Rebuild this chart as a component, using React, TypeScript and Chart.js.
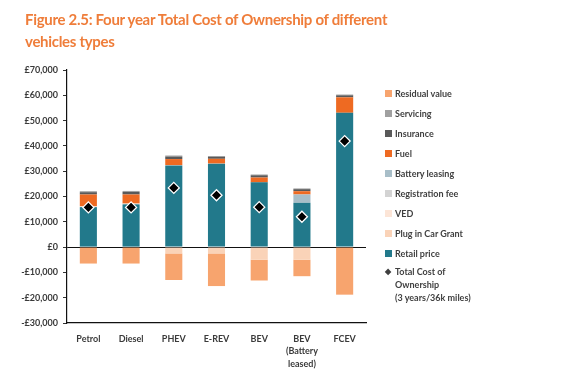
import React, { useEffect, useRef } from "react";
import { Chart, registerables } from "chart.js";

Chart.register(...registerables);

const categories: (string | string[])[] = ["Petrol", "Diesel", "PHEV", "E-REV", "BEV", ["BEV", "(Battery", "leased)"], "FCEV"];
const retailPrice = [15800, 16900, 32300, 32900, 25600, 17500, 53100];
const plugInCarGrant = [0, 0, -2500, -2500, -5000, -5000, 0];
const ved = [300, 300, 100, 100, 0, 0, 0];
const registrationFee = [0, 0, 0, 0, 0, 0, 0];
const batteryLeasing = [0, 0, 0, 0, 0, 3300, 0];
const fuel = [4700, 3600, 2400, 1900, 1900, 1300, 6100];
const insurance = [900, 1000, 1000, 800, 900, 800, 800];
const servicing = [400, 400, 400, 300, 300, 300, 300];
const residualValue = [-6500, -6500, -10500, -12900, -8200, -6500, -18800];
const totalCostOfOwnership = [15700, 15700, 23400, 20500, 15800, 12000, 41900];

const yTicks = [-30000, -20000, -10000, 0, 10000, 20000, 30000, 40000, 50000, 60000, 70000];

const COLORS = {
  retail: "#22798B",
  grant: "#FAD3B8",
  ved: "#FCE5D7",
  reg: "#D3D3D3",
  battery: "#A8BEC8",
  fuel: "#EE6A22",
  insurance: "#595959",
  servicing: "#A0A0A0",
  residual: "#F7A46E",
};

const legendItems = [
  { label: "Residual value", color: COLORS.residual },
  { label: "Servicing", color: COLORS.servicing },
  { label: "Insurance", color: COLORS.insurance },
  { label: "Fuel", color: COLORS.fuel },
  { label: "Battery leasing", color: COLORS.battery },
  { label: "Registration fee", color: COLORS.reg },
  { label: "VED", color: COLORS.ved },
  { label: "Plug in Car Grant", color: COLORS.grant },
  { label: "Retail price", color: COLORS.retail },
];

const FONT = "Lato, 'Open Sans', sans-serif";

function fmt(v: number) {
  const a = Math.abs(v).toLocaleString("en-GB");
  return v < 0 ? "-£" + a : "£" + a;
}

export default function App() {
  const ref = useRef<HTMLCanvasElement>(null);
  useEffect(() => {
    if (!ref.current) return;
    const bar = (label: string, data: number[], color: string) => ({
      type: "bar" as const,
      label,
      data,
      backgroundColor: color,
      borderWidth: 0,
      stack: "s",
      categoryPercentage: 1,
      barPercentage: 0.4,
    });
    const chart = new Chart(ref.current, {
      type: "bar",
      data: {
        labels: categories,
        datasets: [
          {
            type: "line" as const,
            label: "Total Cost of Ownership (3 years/36k miles)",
            data: totalCostOfOwnership,
            showLine: false,
            pointStyle: "rectRot",
            pointRadius: 5.5,
            pointBackgroundColor: "#000",
            pointBorderColor: "#fff",
            pointBorderWidth: 1.3,
            stack: "tco",
            order: -1,
          } as any,
          bar("Retail price", retailPrice, COLORS.retail),
          bar("Plug in Car Grant", plugInCarGrant, COLORS.grant),
          bar("VED", ved, COLORS.ved),
          bar("Registration fee", registrationFee, COLORS.reg),
          bar("Battery leasing", batteryLeasing, COLORS.battery),
          bar("Fuel", fuel, COLORS.fuel),
          bar("Insurance", insurance, COLORS.insurance),
          bar("Servicing", servicing, COLORS.servicing),
          bar("Residual value", residualValue, COLORS.residual),
        ],
      },
      options: {
        animation: false,
        responsive: false,
        layout: { padding: { left: 0, right: 204, top: 70, bottom: 0 } },
        plugins: { legend: { display: false }, tooltip: { enabled: false }, title: { display: false } },
        scales: {
          x: {
            stacked: true,
            grid: { display: false },
            border: { display: true, color: "#111", width: 1.2 },
            ticks: { color: "#3a3a3a", font: { family: FONT, size: 9, weight: "bold", lineHeight: 1.36 }, padding: 2, maxRotation: 0, autoSkip: false },
            afterFit: (s: any) => { s.height = 56; },
          },
          y: {
            stacked: true,
            min: -30000,
            max: 70000,
            afterBuildTicks: (s: any) => { s.ticks = yTicks.map((v) => ({ value: v })); },
            grid: {
              color: (c: any) => (c.tick && c.tick.value === 0 ? "#111" : "rgba(0,0,0,0)"),
              tickColor: "#333",
              tickLength: 4,
              lineWidth: 1,
              drawTicks: true,
            },
            border: { display: true, color: "#111", width: 1.2 },
            ticks: { color: "#3a3a3a", font: { family: FONT, size: 9, weight: "bold" }, padding: 5, callback: (v: any) => fmt(Number(v)) },
            afterFit: (s: any) => { s.width = 67; },
          },
        },
      },
    });
    return () => chart.destroy();
  }, []);

  return (
    <div style={{ position: "absolute", left: 0, top: 0, width: 570, height: 379, background: "#fff", fontFamily: FONT }}>
      <canvas ref={ref} width={570} height={379} style={{ position: "absolute", left: 0, top: 0, width: 570, height: 379 }} />
      <div style={{ position: "absolute", left: 25, top: 8, color: "#EF7D3A", fontWeight: 700, fontSize: 15, letterSpacing: "-0.3px", lineHeight: "22px", whiteSpace: "nowrap" }}>
        Figure 2.5: Four year Total Cost of Ownership of different
        <br />
        vehicles types
      </div>
      <div style={{ position: "absolute", left: 385, top: 83, fontSize: 9, color: "#3f3f3f", fontWeight: 700 }}>
        {legendItems.map((it) => (
          <div key={it.label} style={{ display: "flex", alignItems: "center", height: 20.1 }}>
            <span style={{ display: "inline-block", width: 7, height: 7, background: it.color, marginRight: 3 }} />
            <span>{it.label}</span>
          </div>
        ))}
        <div style={{ display: "flex", alignItems: "flex-start", marginTop: 1.5 }}>
          <span style={{ display: "inline-block", width: 10, textAlign: "left", fontSize: 8, lineHeight: "13px" }}>◆</span>
          <span style={{ lineHeight: "13px" }}>
            Total Cost of
            <br />
            Ownership
            <br />
            (3 years/36k miles)
          </span>
        </div>
      </div>
    </div>
  );
}
